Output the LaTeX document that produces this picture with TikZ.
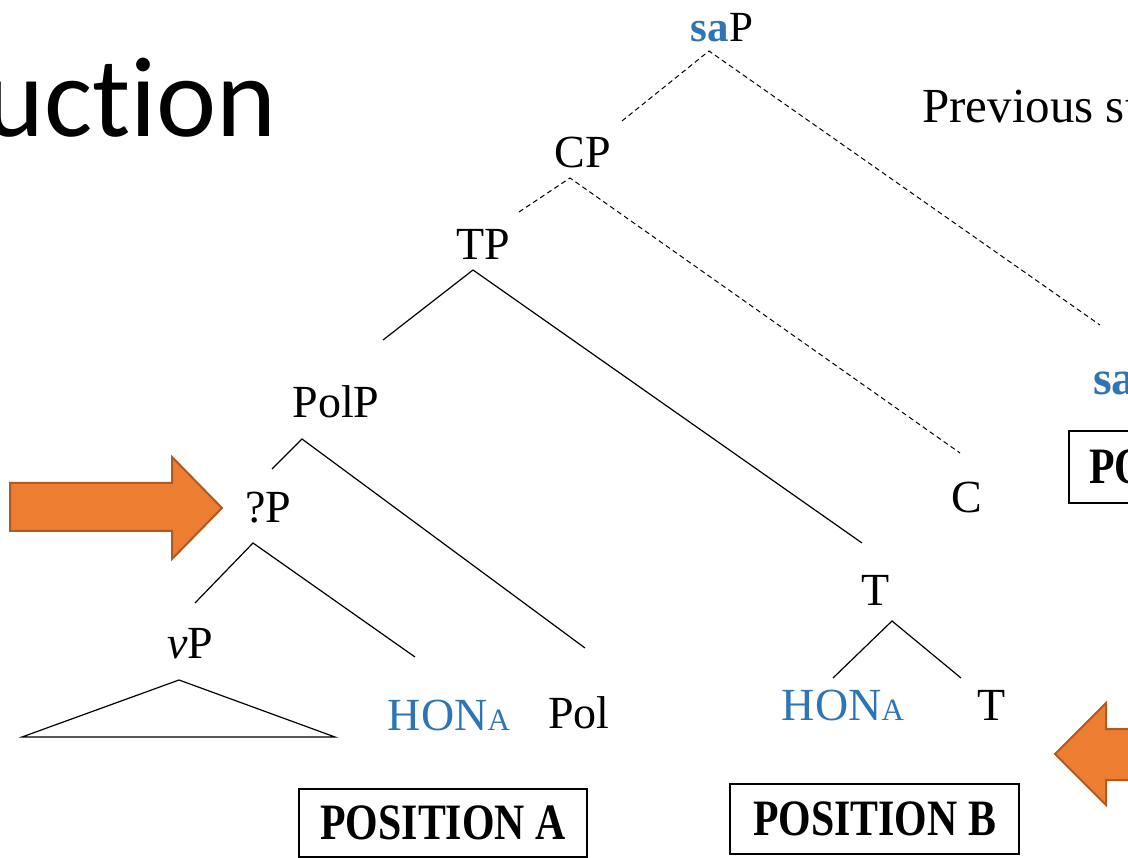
\documentclass[tikz,border=0pt]{standalone}
\usepackage{fontspec}
\setmainfont{Liberation Serif}
\newfontfamily\titlefont[Ligatures={NoCommon}]{Carlito}
\definecolor{hblue}{HTML}{2E75B6}
\definecolor{aorange}{HTML}{ED7D31}
\definecolor{aedge}{HTML}{AE5A21}
\begin{document}
\begin{tikzpicture}[x=1pt,y=-1pt,
  lbl/.style={inner sep=0pt, anchor=base, font=\fontsize{46}{50}\selectfont},
  hon/.style={lbl, text=hblue},
  solidedge/.style={line width=1.2pt, black},
  dashedge/.style={line width=1pt, dash pattern=on 5pt off 3.5pt},
  posbox/.style={draw, line width=2pt, inner sep=0pt, font=\fontsize{51}{54}\selectfont\bfseries},
  fatarrow/.style={fill=aorange, draw=aedge, line width=2pt, line join=miter}
]
\useasboundingbox (0,0) rectangle (1128,858);
\fill[white] (0,0) rectangle (1128,858);

% title fragment
\node[inner sep=0pt, anchor=base east, font=\titlefont\fontsize{114}{120}\selectfont] (title) at (277,137) {uction};

% side text
\node[inner sep=0pt, anchor=base west, font=\fontsize{49}{52}\selectfont] (prev) at (922,123) {Previous studies};

% tree labels
\node[lbl, font=\fontsize{43}{48}\selectfont] (saP) at (722,42) {\textcolor{hblue}{\bfseries sa}P};
\node[lbl] (CP) at (583,168) {CP};
\node[lbl] (TP) at (483,260) {TP};
\node[lbl] (PolP) at (336,418) {PolP};
\node[lbl] (QP) at (268,522) {?P};
\node[lbl] (vP) at (190,658) {\textit{v}P};
\node[hon] (honA) at (449,730) {HON{\fontsize{31}{34}\selectfont A}};
\node[lbl] (Pol) at (579,728) {Pol};
\node[lbl] (C) at (967,513) {C};
\node[lbl] (T1) at (876,605) {T};
\node[hon] (honB) at (843,720) {HON{\fontsize{31}{34}\selectfont A}};
\node[lbl] (T2) at (992,720) {T};
\node[lbl, anchor=base west, text=hblue, font=\fontsize{48}{52}\selectfont\bfseries] (saR) at (1093,395) {sa};

% branch points and ends
\coordinate (saPb) at (709,51);
\coordinate (saPl) at (622,121);
\coordinate (saPr) at (1100,325);
\coordinate (CPb) at (570,178);
\coordinate (CPl) at (519,212);
\coordinate (CPr) at (960,453);
\coordinate (TPb) at (473,270);
\coordinate (TPl) at (383,340);
\coordinate (TPr) at (862,543);
\coordinate (PolPb) at (302,439);
\coordinate (PolPl) at (272,469);
\coordinate (PolPr) at (585,648);
\coordinate (QPb) at (253,543);
\coordinate (QPl) at (195,603);
\coordinate (QPr) at (415,657);
\coordinate (T1b) at (892,621);
\coordinate (T1l) at (833,678);
\coordinate (T1r) at (961,678);
\coordinate (vPa) at (179,680);
\coordinate (vPl) at (22,737);
\coordinate (vPr) at (335,737);

\draw[dashedge] (saPl) -- (saPb) -- (saPr);
\draw[dashedge] (CPl) -- (CPb) -- (CPr);
\draw[solidedge] (TPl) -- (TPb) -- (TPr);
\draw[solidedge] (PolPl) -- (PolPb) -- (PolPr);
\draw[solidedge] (QPl) -- (QPb) -- (QPr);
\draw[solidedge] (T1l) -- (T1b) -- (T1r);
\draw[solidedge] (vPl) -- (vPa) -- (vPr) -- cycle;

% position boxes
\node[posbox, anchor=north west, minimum width=288pt, minimum height=68pt] (posA) at (298,788) {\scalebox{0.82}[1]{POSITION A}};
\node[posbox, anchor=north west, minimum width=289pt, minimum height=70pt] (posB) at (729,783) {\scalebox{0.82}[1]{POSITION B}};
\node[posbox, anchor=north west, minimum height=72pt, inner xsep=20pt] (posC) at (1068,430) {\scalebox{0.82}[1]{POSITION C}};

% arrows
\draw[fatarrow] (10,483) -- (172,483) -- (172,457) -- (222,508) -- (172,559) -- (172,531) -- (10,531) -- cycle;
\draw[fatarrow] (1160,729) -- (1106,729) -- (1106,703) -- (1055,754) -- (1106,805) -- (1106,780) -- (1160,780) -- cycle;
\end{tikzpicture}
\end{document}
